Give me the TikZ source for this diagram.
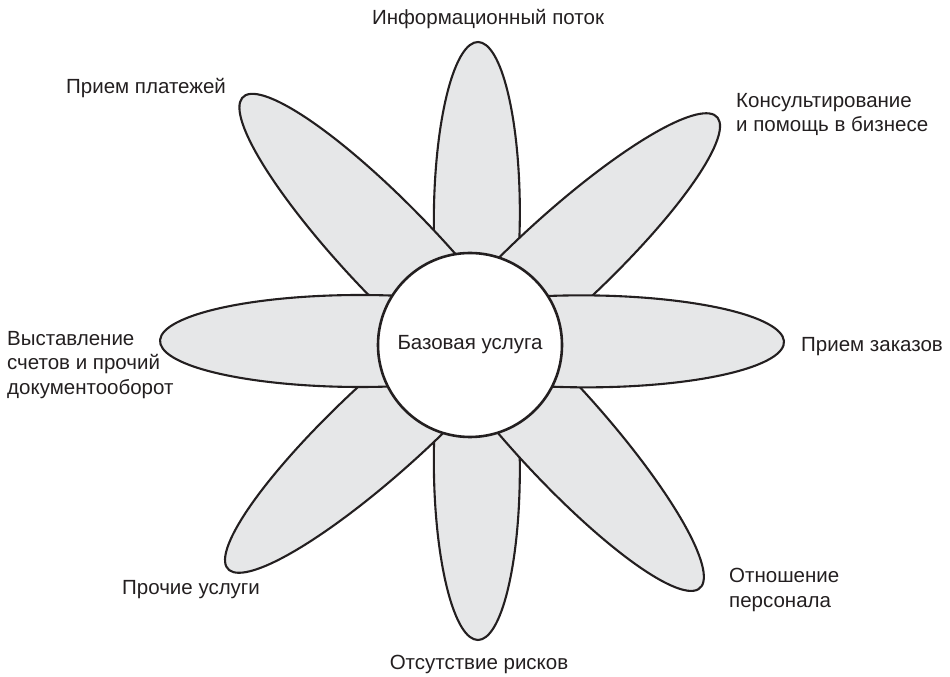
\documentclass[tikz,border=0pt]{standalone}
\usepackage{fontspec}
\setmainfont{Liberation Sans}
\definecolor{petalfill}{HTML}{E6E7E8}
\definecolor{ink}{HTML}{231F20}
\tikzset{
  petal/.style={draw=ink, fill=petalfill, line width=2.1pt, line join=round},
  hubcircle/.style={circle, draw=ink, fill=white, line width=2.6pt, minimum size=184pt, inner sep=0pt, text=ink, font=\fontsize{20.5}{24.5}\selectfont},
  lbl/.style={text=ink, font=\fontsize{20.5}{24.5}\selectfont, inner sep=0pt, align=left},
}
% tip x, tip y, semi-major a, semi-minor b ; hub at (476,336)
\newcommand\drawpetal[4]{%
  \pgfmathsetmacro\fpdx{#1-476}%
  \pgfmathsetmacro\fpdy{#2-336}%
  \pgfmathsetmacro\fpang{atan2(\fpdy,\fpdx)}%
  \pgfmathsetmacro\fplen{veclen(\fpdx,\fpdy)}%
  \pgfmathsetmacro\fptheta{acos((#3-\fplen)/#3)}%
  \pgfmathsetmacro\fph{#4*sin(\fptheta)}%
  \begin{scope}[shift={(#1,#2)}, rotate=\fpang]
    \draw[petal] (-\fplen,-\fph) arc[start angle=-\fptheta, end angle=\fptheta, x radius=#3, y radius=#4] -- cycle;
  \end{scope}}
\begin{document}
\begin{tikzpicture}[x=1pt, y=1pt]
\useasboundingbox (0,0) rectangle (950,677);
% vertical petals
\drawpetal{478}{635}{175}{43}
\drawpetal{478}{37}{175}{43}
% diagonal petals
\drawpetal{243}{580}{220}{46}
\drawpetal{717}{560}{220}{46}
\drawpetal{228}{108}{220}{46}
\drawpetal{700}{89}{220}{46}
% horizontal petals
\drawpetal{160}{336}{200}{46}
\drawpetal{784}{335}{200}{46}
% centre
\node[hubcircle] (base) at (470,332) {Базовая услуга};
% labels (base anchor = baseline of the last line)
\node[lbl, anchor=base] (info) at (488,652) {Информационный поток};
\node[lbl, anchor=base west] (pay) at (66,583.5) {Прием платежей};
\node[lbl, anchor=base west] (consult) at (736,545) {Консультирование\\и помощь в бизнесе};
\node[lbl, anchor=base west] (orders) at (801,325.5) {Прием заказов};
\node[lbl, anchor=base west] (bills) at (7,282.5) {Выставление\\счетов и прочий\\документооборот};
\node[lbl, anchor=base west] (other) at (122,82) {Прочие услуги};
\node[lbl, anchor=base west] (staff) at (729,69.5) {Отношение\\персонала};
\node[lbl, anchor=base] (risk) at (479,7) {Отсутствие рисков};
\end{tikzpicture}
\end{document}
